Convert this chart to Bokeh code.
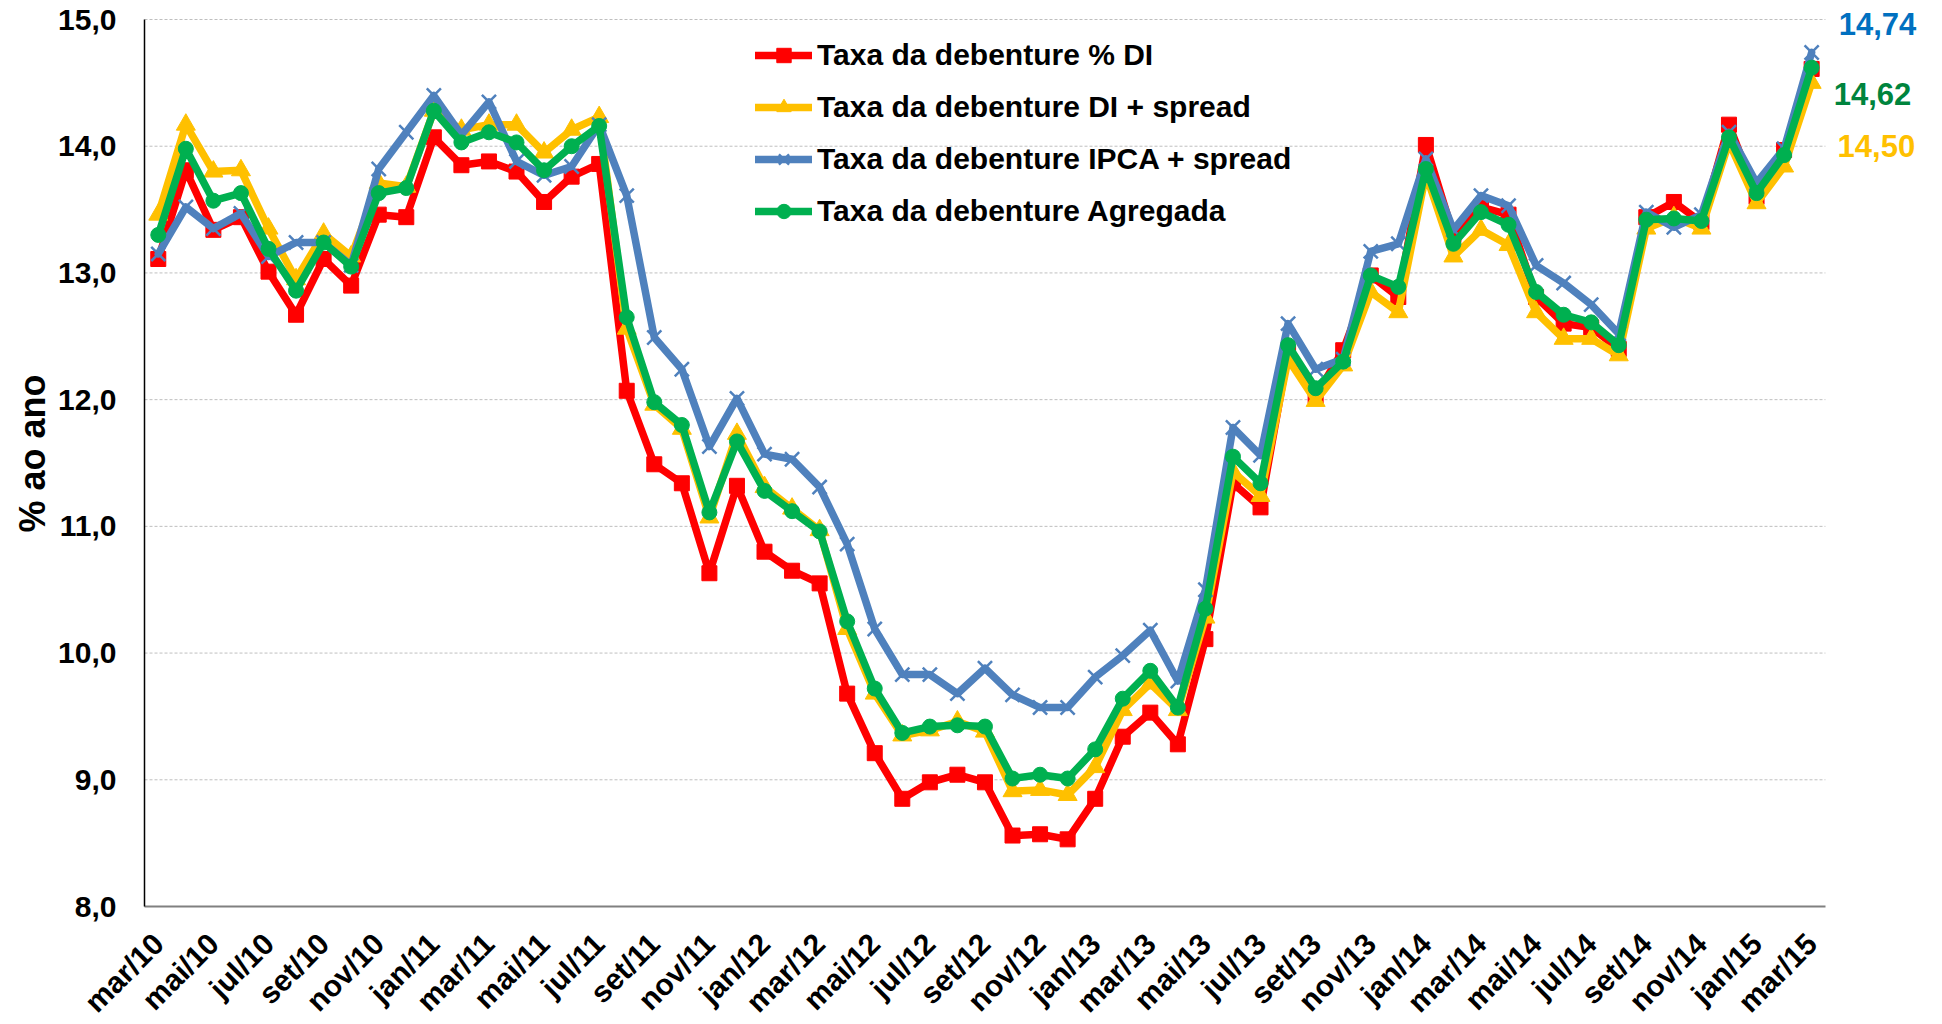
import math
from bokeh.plotting import figure
from bokeh.models import Legend, LegendItem, Label, FixedTicker
from bokeh.embed import file_html
from bokeh.resources import INLINE

months = []
_mn = ["jan", "fev", "mar", "abr", "mai", "jun", "jul", "ago", "set", "out", "nov", "dez"]
for yy in range(10, 16):
    for m in _mn:
        months.append(f"{m}/{yy}")
months = months[2:2 + 61]  # mar/10 .. mar/15

taxa_di_pct = [13.11, 13.81, 13.34, 13.44, 13.01, 12.67, 13.11, 12.90, 13.46, 13.44,
               14.07, 13.85, 13.88, 13.80, 13.56, 13.76, 13.86, 12.07, 11.49, 11.34,
               10.63, 11.32, 10.80, 10.65, 10.55, 9.68, 9.21, 8.85, 8.98, 9.04,
               8.98, 8.56, 8.57, 8.53, 8.85, 9.34, 9.53, 9.28, 10.11, 11.34,
               11.15, 12.37, 12.03, 12.39, 12.98, 12.81, 14.01, 13.30, 13.52, 13.46,
               12.81, 12.60, 12.57, 12.40, 13.44, 13.56, 13.40, 14.17, 13.60, 13.97,
               14.61]
taxa_di_spread = [13.46, 14.17, 13.80, 13.81, 13.35, 12.95, 13.31, 13.13, 13.71, 13.68,
                  14.28, 14.13, 14.17, 14.17, 13.95, 14.13, 14.23, 12.56, 11.96, 11.77,
                  11.07, 11.73, 11.31, 11.14, 10.97, 10.19, 9.68, 9.35, 9.39, 9.46,
                  9.38, 8.91, 8.92, 8.88, 9.10, 9.55, 9.76, 9.55, 10.28, 11.43,
                  11.24, 12.32, 11.99, 12.27, 12.85, 12.69, 13.78, 13.13, 13.34, 13.22,
                  12.69, 12.48, 12.48, 12.35, 13.35, 13.44, 13.35, 14.03, 13.55, 13.84,
                  14.50]
taxa_ipca_spread = [13.15, 13.52, 13.35, 13.47, 13.13, 13.24, 13.24, 13.06, 13.82, 14.11,
                    14.40, 14.09, 14.35, 13.88, 13.77, 13.84, 14.17, 13.61, 12.49, 12.24,
                    11.63, 12.01, 11.57, 11.53, 11.31, 10.86, 10.19, 9.83, 9.83, 9.68,
                    9.88, 9.67, 9.57, 9.57, 9.81, 9.98, 10.18, 9.78, 10.50, 11.78,
                    11.56, 12.60, 12.24, 12.32, 13.17, 13.23, 13.90, 13.34, 13.61, 13.53,
                    13.06, 12.92, 12.75, 12.52, 13.48, 13.36, 13.46, 14.11, 13.71, 13.98,
                    14.74]
taxa_agregada = [13.30, 13.98, 13.57, 13.63, 13.19, 12.86, 13.24, 13.05, 13.63, 13.67,
                 14.28, 14.03, 14.11, 14.03, 13.81, 14.00, 14.16, 12.65, 11.98, 11.80,
                 11.11, 11.67, 11.28, 11.12, 10.96, 10.25, 9.72, 9.37, 9.42, 9.43,
                 9.42, 9.01, 9.04, 9.01, 9.24, 9.64, 9.86, 9.57, 10.35, 11.55,
                 11.34, 12.43, 12.09, 12.30, 12.98, 12.89, 13.82, 13.23, 13.48, 13.38,
                 12.85, 12.67, 12.61, 12.43, 13.42, 13.43, 13.41, 14.07, 13.63, 13.93,
                 14.62]

series_names = ["Taxa da debenture % DI", "Taxa da debenture DI + spread",
                "Taxa da debenture IPCA + spread", "Taxa da debenture Agregada"]
y_ticks = [8, 9, 10, 11, 12, 13, 14, 15]

FONT = "Liberation Sans"
n = len(months)
x = list(range(n))
x_lo, x_hi = -0.5, n - 0.5

p = figure(frame_width=1776, frame_height=906, output_backend="svg", toolbar_location=None,
           x_range=(x_lo, 63.95), y_range=(y_ticks[0], 15.15),
           min_border_left=144, min_border_right=6, min_border_top=0, min_border_bottom=102,
           background_fill_color="white", border_fill_color="white")
p.outline_line_color = None
p.xgrid.grid_line_color = None
p.ygrid.grid_line_color = None

# dotted horizontal gridlines limited to the plot area
gy = y_ticks[1:]
p.segment(x0=[x_lo] * len(gy), x1=[x_hi] * len(gy), y0=gy, y1=gy,
          line_color="#BFBFBF", line_dash="3 2", line_width=1)

# axes
p.yaxis.bounds = (y_ticks[0], y_ticks[-1])
p.yaxis.ticker = FixedTicker(ticks=y_ticks)
p.yaxis.major_label_overrides = {t: f"{t:.1f}".replace(".", ",") for t in y_ticks}
p.yaxis.axis_label = "% ao ano"
p.yaxis.axis_label_text_font = FONT
p.yaxis.axis_label_text_font_style = "bold"
p.yaxis.axis_label_text_font_size = "36px"
p.yaxis.axis_label_text_color = "black"
p.yaxis.axis_label_standoff = 2
p.yaxis.major_label_text_font = FONT
p.yaxis.major_label_text_font_style = "bold"
p.yaxis.major_label_text_font_size = "30px"
p.yaxis.major_label_text_color = "black"
p.yaxis.major_label_standoff = 28
p.yaxis.major_tick_line_color = None
p.yaxis.minor_tick_line_color = None
p.yaxis.major_tick_out = 0
p.yaxis.major_tick_in = 0
p.yaxis.axis_line_color = "black"
p.yaxis.axis_line_width = 1.5

tick_idx = list(range(0, n, 2))
p.xaxis.bounds = (x_lo, x_hi)
p.xaxis.ticker = FixedTicker(ticks=tick_idx)
p.xaxis.major_label_overrides = {i: months[i] for i in tick_idx}
p.xaxis.major_label_orientation = math.pi / 4
p.xaxis.major_label_text_font = FONT
p.xaxis.major_label_text_font_style = "bold"
p.xaxis.major_label_text_font_size = "30px"
p.xaxis.major_label_text_color = "black"
p.xaxis.major_label_standoff = 32
p.xaxis.major_tick_line_color = None
p.xaxis.minor_tick_line_color = None
p.xaxis.major_tick_out = 0
p.xaxis.major_tick_in = 0
p.xaxis.axis_line_color = "#808080"
p.xaxis.axis_line_width = 2

# series
items = []
specs = [
    (taxa_di_pct, "#FF0000", "square", 15, 0),
    (taxa_di_spread, "#FFC000", "triangle", 19, 0),
    (taxa_ipca_spread, "#4F81BD", "x", 20, 2.5),
    (taxa_agregada, "#00B050", "circle", 15, 0),
]
for (vals, color, marker, size, mlw), name in zip(specs, series_names):
    lr = p.line(x, vals, line_color=color, line_width=7.5, line_join="round", line_cap="round")
    if marker == "x":
        sr = p.scatter(x, vals, marker=marker, size=size, line_color=color, line_width=mlw)
    else:
        sr = p.scatter(x, vals, marker=marker, size=size, fill_color=color, line_color=color)
    items.append(LegendItem(label=name, renderers=[lr, sr]))

legend = Legend(items=items, location=(611, 677))
legend.label_text_font = FONT
legend.label_text_font_style = "bold"
legend.label_text_font_size = "30px"
legend.label_text_color = "black"
legend.glyph_width = 57
legend.glyph_height = 36
legend.label_height = 36
legend.label_standoff = 5
legend.spacing = 16
legend.padding = 0
legend.margin = 0
legend.border_line_color = None
legend.background_fill_alpha = 0
p.add_layout(legend)

# end-value labels
end_specs = [
    (taxa_ipca_spread[-1], "#0070C0", 62.39, 14.968),
    (taxa_agregada[-1], "#00843D", 62.21, 14.416),
    (taxa_di_spread[-1], "#FFC000", 62.35, 13.998),
]
for v, c, lx, ly in end_specs:
    p.add_layout(Label(x=lx, y=ly, text=f"{v:.2f}".replace(".", ","), text_color=c,
                       text_font=FONT, text_font_style="bold", text_font_size="31px",
                       text_align="center", text_baseline="middle"))

open("out.html", "w").write(file_html(p, INLINE))
